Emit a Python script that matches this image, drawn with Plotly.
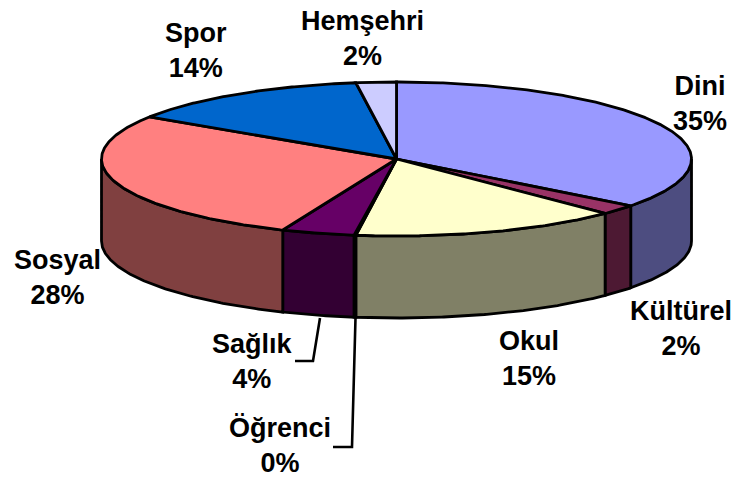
import numpy as np
import plotly.graph_objects as go

categories = ["Dini", "Kültürel", "Okul", "Öğrenci", "Sağlık", "Sosyal", "Spor", "Hemşehri"]
values = [35.4, 2.1, 14.7, 0.1, 4.0, 27.9, 13.6, 2.2]
top_colors = ["#9999FF", "#993366", "#FFFFCC", "#CCFFFF", "#660066", "#FF8080", "#0066CC", "#CCCCFF"]
side_colors = ["#4D4D80", "#4D1933", "#808066", "#668080", "#330033", "#804040", "#003366", "#666680"]
label_x = [700, 681, 529, 280, 252, 57, 196, 362]
label_y = [103, 328, 358, 445, 361, 277, 50, 38]

CX, CY, RX, RY, DEPTH = 396.5, 159, 295, 77, 82
LW = 2.8

def rim(a0, a1, dy=0):
    n = max(2, int(abs(a1 - a0) * 120) + 2)
    t = np.linspace(a0, a1, n)
    return CX + RX * np.sin(t), CY + RY * -np.cos(t) + dy

fig = go.Figure()

def add_poly(xs, ys, color):
    fig.add_trace(go.Scatter(x=xs, y=ys, mode="lines", fill="toself", fillcolor=color,
                             line=dict(color="black", width=LW), hoverinfo="skip",
                             showlegend=False))

total = sum(values)
edges = np.concatenate([[0], np.cumsum(values)]) / total * 2 * np.pi

# Side walls: only the near half of the rim (clock angle 90°..270°) is visible
for i in range(len(values)):
    a0, a1 = max(edges[i], np.pi / 2), min(edges[i + 1], 3 * np.pi / 2)
    if a1 > a0:
        x1, y1 = rim(a0, a1)
        x2, y2 = rim(a1, a0, DEPTH)
        add_poly(np.r_[x1, x2, x1[0]], np.r_[y1, y2, y1[0]], side_colors[i])

# Top faces
for i in range(len(values)):
    x1, y1 = rim(edges[i], edges[i + 1])
    add_poly(np.r_[CX, x1, CX], np.r_[CY, y1, CY], top_colors[i])

annotations = [
    dict(x=lx, y=ly, xref="x", yref="y", showarrow=False, align="center",
         text=f"{c}<br>{round(v)}%",
         font=dict(family="Liberation Sans", size=27, color="black", weight="bold"))
    for c, v, lx, ly in zip(categories, values, label_x, label_y)
]

leaders = [
    "M 320 318 L 313 361 L 295 361",
    "M 355.5 318 L 352 447 L 333 447",
]
shapes = [dict(type="path", path=p, xref="x", yref="y", line=dict(color="black", width=2.6))
          for p in leaders]

fig.update_layout(
    width=733, height=478, autosize=False,
    margin=dict(l=0, r=0, t=0, b=0),
    paper_bgcolor="white", plot_bgcolor="white",
    xaxis=dict(range=[0, 733], visible=False, fixedrange=True),
    yaxis=dict(range=[478, 0], visible=False, fixedrange=True),
    annotations=annotations, shapes=shapes, showlegend=False,
)
fig.write_html("out.html", config=dict(displayModeBar=False),
               post_script="document.body.style.margin='0';document.body.style.overflow='hidden';")
